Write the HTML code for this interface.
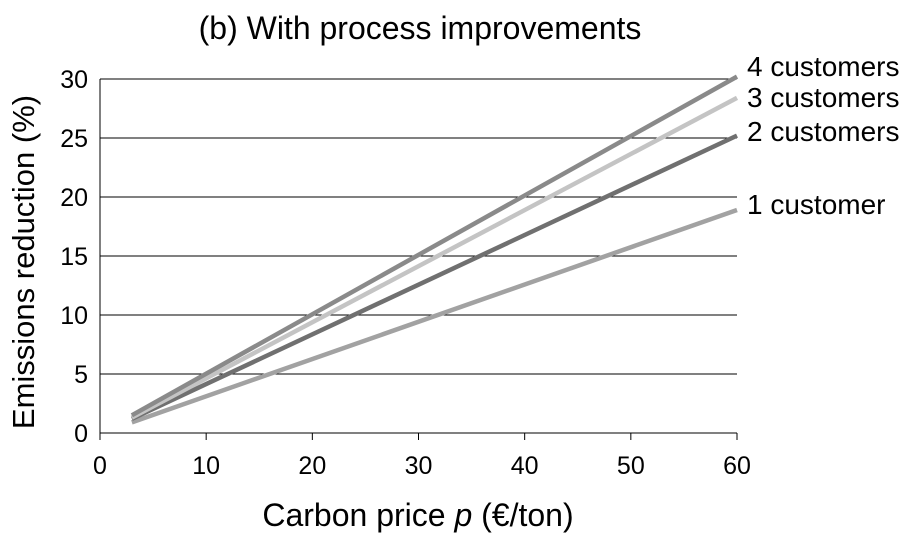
<!DOCTYPE html>
<html><head><meta charset="utf-8"><style>
body{margin:0;background:#fff}
svg text{font-family:"Liberation Sans",Arial,sans-serif;fill:#000}
</style></head><body>
<svg id="c" width="916" height="536">
<text x="420" y="39" font-size="32" text-anchor="middle">(b) With process improvements</text>
<text transform="translate(34,262) rotate(-90)" font-size="31" text-anchor="middle">Emissions reduction (%)</text>
<text x="418" y="526" font-size="32" text-anchor="middle">Carbon price <tspan font-style="italic">p</tspan> (€/ton)</text>
</svg>
<script>
const xTicks=[0,10,20,30,40,50,60];
const yTicks=[0,5,10,15,20,25,30];
const seriesNames=["1 customer","2 customers","3 customers","4 customers"];
const xStart=[3,3,3,3];
const xEnd=[60,60,60,60];
const yStart=[0.9,1.2,1.3,1.5];
const yEnd=[18.9,25.2,28.4,30.2];
const colors=["#a2a2a2","#707070","#c4c4c4","#8a8a8a"];
const labelY=[205,132,98,67];
const svg=document.getElementById('c');
const NS='http://www.w3.org/2000/svg';
const X=v=>100+v*(637/60);
const Y=v=>433-v*(354/30);
function mk(t,a){const e=document.createElementNS(NS,t);for(const k in a)e.setAttribute(k,a[k]);svg.appendChild(e);return e;}
yTicks.forEach(t=>{
 const l=mk('line',{x1:X(0),x2:X(60),y1:Y(t),y2:Y(t),stroke:'#000','stroke-width':1});
 
 
 const tx=mk('text',{x:88,y:Y(t)+9,'font-size':25,'text-anchor':'end'});tx.textContent=t;
 
 
});
const ax=mk('line',{x1:X(0),x2:X(0),y1:Y(0),y2:Y(30),stroke:'#000','stroke-width':1});


xTicks.forEach(t=>{
 const l=mk('line',{x1:X(t),x2:X(t),y1:Y(0),y2:Y(0)+7,stroke:'#000','stroke-width':1});
 
 
 const tx=mk('text',{x:X(t),y:474,'font-size':25,'text-anchor':'middle'});tx.textContent=t;
 
 
});
seriesNames.forEach((n,i)=>{
 const l=mk('line',{x1:X(xStart[i]),y1:Y(yStart[i]),x2:X(xEnd[i]),y2:Y(yEnd[i]),stroke:colors[i],'stroke-width':4.5});
 
 
 const tx=mk('text',{x:747,y:labelY[i]+9,'font-size':28});tx.textContent=n;
 
 
});
</script>
</body></html>
